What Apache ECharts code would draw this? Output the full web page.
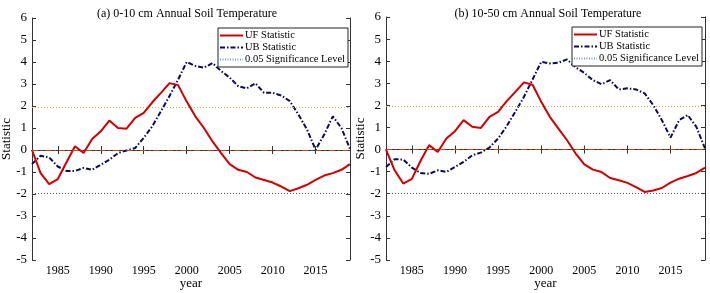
<!DOCTYPE html>
<html>
<head>
<meta charset="utf-8">
<script src="https://cdn.jsdelivr.net/npm/echarts@6/dist/echarts.min.js"></script>
<style>
  html, body { margin: 0; padding: 0; background: #fff; }
  #main { width: 710px; height: 293px; }
</style>
</head>
<body>
<div id="main"></div>
<script>
// years 1982 - 2019
const years = []
for (let y = 1982; y <= 2019; y++) years.push(String(y))

const yTicks = [-5, -4, -3, -2, -1, 0, 1, 2, 3, 4, 5, 6]
const sigLevel = 1.96

// (a) 0-10 cm
const ufA = [0, -1.05, -1.55, -1.32, -0.57, 0.17, -0.14, 0.5, 0.85, 1.34, 1.0, 0.97, 1.46, 1.69, 2.17, 2.6, 3.04, 2.95, 2.2,
  1.53, 1.0, 0.39, -0.14, -0.64, -0.9, -1.0, -1.25, -1.36, -1.48, -1.66, -1.87, -1.74, -1.58, -1.36, -1.16, -1.05, -0.9, -0.64]
const ubA = [-0.64, -0.26, -0.34, -0.75, -0.95, -0.95, -0.82, -0.9, -0.67, -0.44, -0.14, -0.02, 0.09, 0.55, 1.08, 1.76, 2.45, 3.2, 4.0,
  3.82, 3.74, 3.95, 3.59, 3.29, 2.9, 2.8, 3.03, 2.6, 2.6, 2.48, 2.22, 1.61, 0.93, 0.01, 0.7, 1.53, 1.0, 0.05]

// (b) 10-50 cm
const ufB = [0, -0.94, -1.54, -1.33, -0.52, 0.2, -0.11, 0.5, 0.83, 1.33, 1.03, 0.98, 1.48, 1.71, 2.19, 2.61, 3.04, 2.93, 2.16,
  1.48, 0.95, 0.42, -0.18, -0.67, -0.91, -1.02, -1.29, -1.39, -1.51, -1.7, -1.92, -1.85, -1.74, -1.5, -1.32, -1.2, -1.06, -0.82]
const ubB = [-0.79, -0.44, -0.45, -0.82, -1.06, -1.1, -0.94, -1.01, -0.79, -0.56, -0.26, -0.14, 0.09, 0.5, 1.06, 1.71, 2.39, 3.17, 3.97,
  3.9, 3.93, 4.08, 3.72, 3.47, 3.14, 2.96, 3.14, 2.72, 2.77, 2.72, 2.54, 2.01, 1.33, 0.54, 1.33, 1.56, 1.03, 0.05]

const titles = ['(a) 0-10 cm Annual Soil Temperature', '(b) 10-50 cm Annual Soil Temperature']
const legendNames = ['UF Statistic', 'UB Statistic', '0.05 Significance Level']

const font = 'Liberation Serif'
const axisColor = '#333'

const chart = echarts.init(document.getElementById('main'))

const grids = [
  { left: 32, right: 360, top: 18, bottom: 33, outerBoundsMode: 'none' },
  { left: 386, right: 5, top: 17, bottom: 33, outerBoundsMode: 'none' }
]

function every5(idx, val) {
  return Number(val) % 5 === 0
}

const xAxis = []
const yAxis = []
grids.forEach((g, i) => {
  // bottom axis with labels
  xAxis.push({
    type: 'category',
    gridIndex: i,
    data: years,
    boundaryGap: false,
    name: 'year',
    nameLocation: 'middle',
    nameGap: 17,
    nameMoveOverlap: false,
    nameTextStyle: { fontFamily: font, fontSize: 13, color: '#000' },
    axisLine: { lineStyle: { color: axisColor, width: 1 } },
    axisTick: { inside: true, length: 4, interval: every5, lineStyle: { color: axisColor } },
    axisLabel: { interval: every5, fontFamily: font, fontSize: 12, color: '#000', margin: 5 },
    splitLine: { show: false }
  })
  // top mirror
  xAxis.push({
    type: 'category',
    gridIndex: i,
    data: years,
    boundaryGap: false,
    position: 'top',
    axisLine: { lineStyle: { color: axisColor, width: 1 } },
    axisTick: { inside: true, length: 4, interval: every5, lineStyle: { color: axisColor } },
    axisLabel: { show: false },
    splitLine: { show: false }
  })
  yAxis.push({
    type: 'value',
    gridIndex: i,
    min: yTicks[0],
    max: yTicks[yTicks.length - 1],
    interval: 1,
    name: 'Statistic',
    nameLocation: 'middle',
    nameGap: 19,
    nameMoveOverlap: false,
    nameTextStyle: { fontFamily: font, fontSize: 13, color: '#000' },
    axisLine: { show: true, lineStyle: { color: axisColor, width: 1 } },
    axisTick: { show: true, inside: true, length: 4, lineStyle: { color: axisColor } },
    axisLabel: { fontFamily: font, fontSize: 13, color: '#000', margin: 5 },
    splitLine: { show: false }
  })
  yAxis.push({
    type: 'value',
    gridIndex: i,
    min: yTicks[0],
    max: yTicks[yTicks.length - 1],
    interval: 1,
    position: 'right',
    axisLine: { show: true, lineStyle: { color: axisColor, width: 1 } },
    axisTick: { show: true, inside: true, length: 4, lineStyle: { color: axisColor } },
    axisLabel: { show: false },
    splitLine: { show: false }
  })
})

function panelSeries(i, uf, ub) {
  const xi = i * 2
  const yi = i * 2
  return [
    {
      name: legendNames[0],
      type: 'line',
      xAxisIndex: xi,
      yAxisIndex: yi,
      data: uf,
      symbol: 'none',
      z: 4,
      lineStyle: { color: '#d00000', width: 2 },
      itemStyle: { color: '#d00000' }
    },
    {
      name: legendNames[1],
      type: 'line',
      xAxisIndex: xi,
      yAxisIndex: yi,
      data: ub,
      symbol: 'none',
      z: 3,
      lineStyle: { color: '#0c0c50', width: 2, type: [5, 2, 1.5, 2] },
      itemStyle: { color: '#0c0c50' }
    },
    {
      // significance lines (+/- 1.96) and the zero line
      name: legendNames[2],
      type: 'line',
      xAxisIndex: xi,
      yAxisIndex: yi,
      data: [],
      symbol: 'none',
      lineStyle: { color: '#7d9ac0', width: 1, type: [1, 1.5] },
      itemStyle: { color: '#7d9ac0' },
      markLine: {
        silent: true,
        symbol: 'none',
        label: { show: false },
        data: [
          { yAxis: sigLevel, lineStyle: { color: '#c8b060', width: 1, type: [1, 2] } },
          { yAxis: -sigLevel, lineStyle: { color: '#555', width: 1, type: [1, 2] } },
          { yAxis: 0, lineStyle: { color: '#c04a14', width: 1, type: [6, 3, 1.5, 3] } }
        ]
      }
    }
  ]
}

const legendBase = {
  data: legendNames,
  orient: 'vertical',
  backgroundColor: '#fff',
  borderColor: '#222',
  borderWidth: 1,
  borderRadius: 0,
  padding: [2, 3, 2, 1],
  itemGap: 1,
  itemWidth: 23,
  itemHeight: 11,
  itemStyle: { opacity: 0 },
  textStyle: { fontFamily: font, fontSize: 10.5, color: '#000', padding: [0, 0, 0, -3] },
  selectedMode: false
}

const option = {
  animation: false,
  backgroundColor: '#fff',
  title: titles.map((t, i) => ({
    text: t,
    left: i === 0 ? 182 : 543,
    textAlign: 'center',
    top: 3,
    textStyle: { fontFamily: font, fontSize: 12, fontWeight: 'normal', color: '#000' }
  })),
  legend: [
    Object.assign({}, legendBase, { left: 218, top: 28 }),
    Object.assign({}, legendBase, { left: 572, top: 27 })
  ],
  grid: grids,
  xAxis: xAxis,
  yAxis: yAxis,
  series: panelSeries(0, ufA, ubA).concat(panelSeries(1, ufB, ubB))
}

chart.setOption(option)
window.onresize = () => {
  chart.resize()
}
</script>
</body>
</html>
